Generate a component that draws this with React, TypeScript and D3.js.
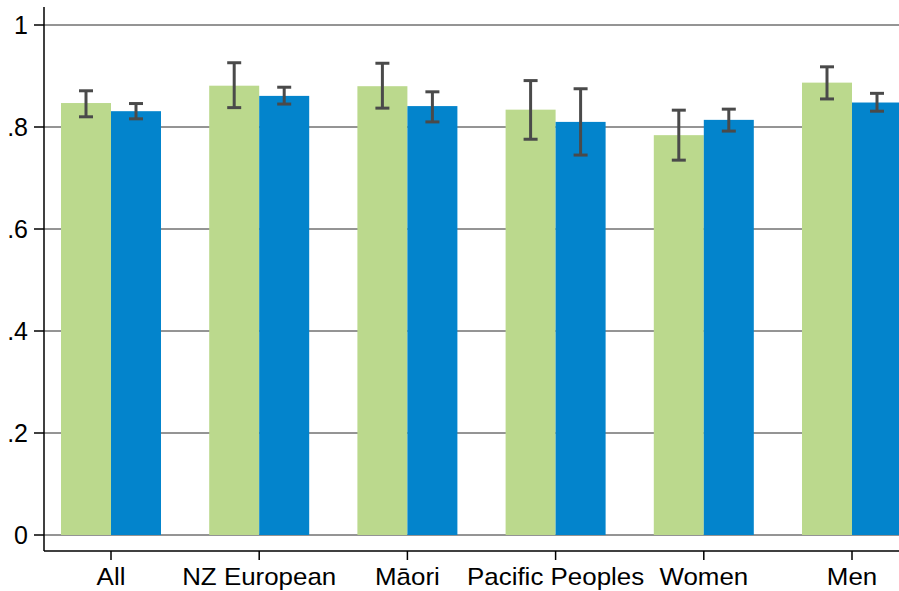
import { useEffect } from 'react';
import * as d3 from 'd3';

const categories = ['All', 'NZ European', 'Māori', 'Pacific Peoples', 'Women', 'Men'];

// green series (first bar in each group)
const greenValues = [0.847, 0.881, 0.880, 0.834, 0.784, 0.887];
const greenLow = [0.820, 0.838, 0.837, 0.776, 0.735, 0.855];
const greenHigh = [0.871, 0.926, 0.925, 0.891, 0.833, 0.918];

// blue series (second bar in each group)
const blueValues = [0.831, 0.861, 0.841, 0.810, 0.814, 0.848];
const blueLow = [0.816, 0.845, 0.810, 0.745, 0.792, 0.831];
const blueHigh = [0.846, 0.878, 0.869, 0.875, 0.835, 0.866];

const yTicks = [0, 0.2, 0.4, 0.6, 0.8, 1];
const yTickLabels = ['0', '.2', '.4', '.6', '.8', '1'];

export default function App() {
  useEffect(() => {
    document.body.style.margin = '0';
  }, []);

  const width = 899;
  const height = 591;
  const axisX = 44;
  const axisY = 551;
  const barW = 50;
  const capW = 14;
  const green = '#bbd98d';
  const blue = '#0384cc';
  const errColor = '#4a4a4a';
  const font = '"Liberation Sans", Arial, sans-serif';

  const xScale = d3.scalePoint<string>().domain(categories).range([111, 852]);
  const yScale = d3.scaleLinear().domain([0, 1]).range([535, 25]);

  const series = [
    { values: greenValues, low: greenLow, high: greenHigh, color: green, offset: -barW },
    { values: blueValues, low: blueLow, high: blueHigh, color: blue, offset: 0 },
  ];

  return (
    <svg width={width} height={height} style={{ display: 'block', background: '#fff' }}>
      {/* grid lines */}
      {yTicks.map((t) => (
        <line key={`g${t}`} x1={axisX} x2={width} y1={yScale(t)} y2={yScale(t)} stroke="#2a2a2a" strokeWidth={1} />
      ))}

      {/* bars */}
      {series.map((s, si) =>
        categories.map((c, i) => (
          <rect
            key={`b${si}-${i}`}
            x={(xScale(c) ?? 0) + s.offset}
            y={yScale(s.values[i])}
            width={barW}
            height={yScale(0) - yScale(s.values[i])}
            fill={s.color}
          />
        ))
      )}

      {/* error bars */}
      {series.map((s, si) =>
        categories.map((c, i) => {
          const cx = (xScale(c) ?? 0) + s.offset + barW / 2;
          const yl = yScale(s.low[i]);
          const yh = yScale(s.high[i]);
          return (
            <g key={`e${si}-${i}`} stroke={errColor} strokeWidth={3}>
              <line x1={cx} x2={cx} y1={yh} y2={yl} />
              <line x1={cx - capW / 2} x2={cx + capW / 2} y1={yh} y2={yh} />
              <line x1={cx - capW / 2} x2={cx + capW / 2} y1={yl} y2={yl} />
            </g>
          );
        })
      )}

      {/* y axis */}
      <line x1={axisX} x2={axisX} y1={7} y2={axisY} stroke="#000" strokeWidth={1.5} />
      {yTicks.map((t, i) => (
        <g key={`yt${t}`}>
          <line x1={axisX - 10} x2={axisX} y1={yScale(t)} y2={yScale(t)} stroke="#000" strokeWidth={1.5} />
          <text
            x={28}
            y={yScale(t)}
            dy="0.36em"
            textAnchor="end"
            fontFamily={font}
            fontSize={25}
            fill="#000"
          >
            {yTickLabels[i]}
          </text>
        </g>
      ))}

      {/* x axis */}
      <line x1={axisX} x2={width} y1={axisY} y2={axisY} stroke="#000" strokeWidth={1.5} />
      {categories.map((c) => {
        const x = xScale(c) ?? 0;
        return (
          <g key={`xt${c}`}>
            <line x1={x} x2={x} y1={axisY} y2={axisY + 9} stroke="#000" strokeWidth={1.5} />
            <text
              transform={`translate(${x},585) scale(1.08,1)`}
              textAnchor="middle"
              fontFamily={font}
              fontSize={24}
              fill="#000"
            >
              {c}
            </text>
          </g>
        );
      })}
    </svg>
  );
}
